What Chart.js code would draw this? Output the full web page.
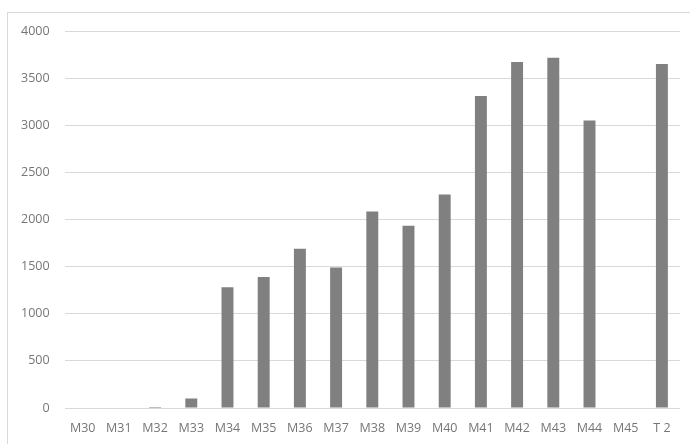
<!DOCTYPE html>
<html>
<head>
<meta charset="utf-8">
<script src="https://cdn.jsdelivr.net/npm/chart.js@4.4.1/dist/chart.umd.min.js"></script>
<style>
  html, body { margin: 0; padding: 0; background: #fff; }
  #wrap { position: relative; width: 690px; height: 444px; overflow: hidden; }
  #frame { position: absolute; left: 7px; top: 12px; width: 700px; height: 460px; border: 1px solid #d9d9d9; box-sizing: border-box; }
  canvas { position: absolute; left: 0; top: 0; }
</style>
</head>
<body>
<div id="wrap">
  <div id="frame"></div>
  <canvas id="chart-bars" width="690" height="444"></canvas>
</div>
<script>
  var categories = ['M30', 'M31', 'M32', 'M33', 'M34', 'M35', 'M36', 'M37', 'M38', 'M39', 'M40', 'M41', 'M42', 'M43', 'M44', 'M45', 'T 2'];
  var values     = [0, 0, 10, 100, 1280, 1390, 1690, 1490, 2085, 1935, 2265, 3310, 3670, 3715, 3050, 0, 3650];
  var yTicks     = [0, 500, 1000, 1500, 2000, 2500, 3000, 3500, 4000];

  Chart.defaults.font.family = '"Open Sans", "Liberation Sans", sans-serif';
  Chart.defaults.font.size = 12.5;
  Chart.defaults.color = '#767676';

  var barsChart = new Chart(document.getElementById('chart-bars').getContext('2d'), {
    type: 'bar',
    data: {
      labels: categories,
      datasets: [{
        data: values,
        backgroundColor: '#808080',
        borderWidth: 0,
        categoryPercentage: 1,
        barPercentage: 0.33
      }]
    },
    options: {
      responsive: false,
      maintainAspectRatio: false,
      animation: false,
      layout: { padding: { left: 6, right: 10, top: 31, bottom: 3 } },
      plugins: { legend: { display: false }, tooltip: { enabled: false } },
      scales: {
        x: {
          grid: { display: false },
          border: { display: false },
          ticks: { padding: 5, maxRotation: 0, autoSkip: false }
        },
        y: {
          min: 0,
          max: yTicks[yTicks.length - 1],
          afterBuildTicks: function(axis) {
            axis.ticks = yTicks.map(function(v) { return { value: v }; });
          },
          grid: { color: '#d9d9d9', lineWidth: 1, drawTicks: false },
          border: { display: false },
          ticks: { padding: 15, callback: function(v) { return String(v); } }
        }
      }
    }
  });
</script>
</body>
</html>
